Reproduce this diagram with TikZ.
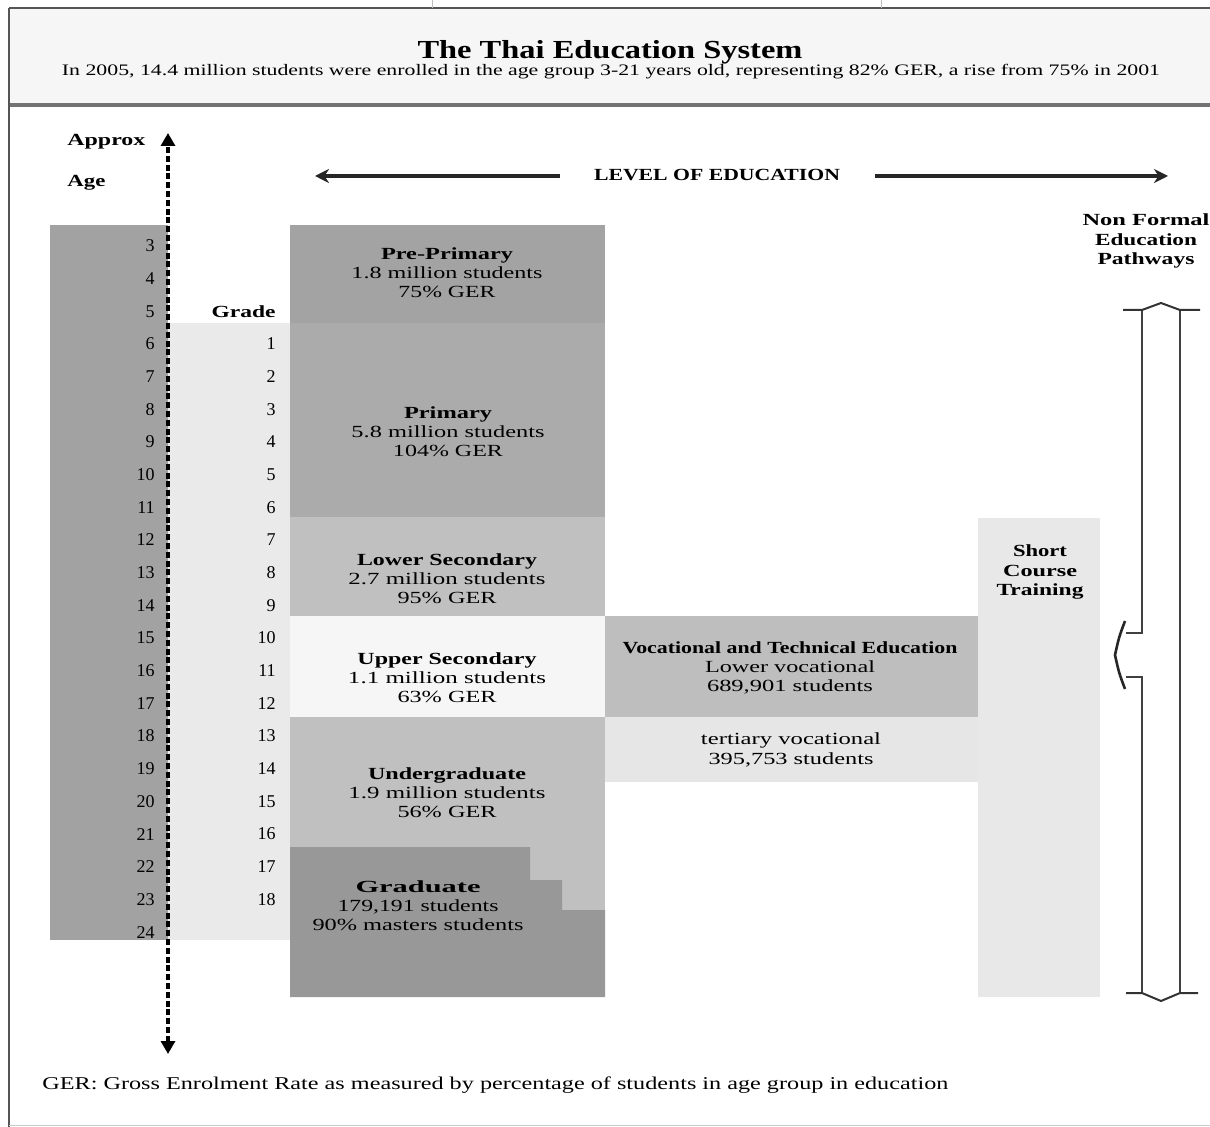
\documentclass[tikz,border=0pt]{standalone}
\usepackage{fontspec}
\setmainfont{Liberation Serif}
\usepackage{graphicx}
\usetikzlibrary{arrows.meta}
\newcommand{\fitw}[2]{\resizebox{#1}{\height}{#2}}
\definecolor{titlebg}{HTML}{F6F6F6}
\definecolor{agecol}{HTML}{A2A2A2}
\definecolor{gradecol}{HTML}{EAEAEA}
\definecolor{precol}{HTML}{A3A3A3}
\definecolor{primcol}{HTML}{ABABAB}
\definecolor{lowcol}{HTML}{C0C0C0}
\definecolor{uppcol}{HTML}{F6F6F6}
\definecolor{undcol}{HTML}{C0C0C0}
\definecolor{gradcol}{HTML}{989898}
\definecolor{voccol}{HTML}{BEBEBE}
\definecolor{tercol}{HTML}{E6E6E6}
\definecolor{shortcol}{HTML}{E8E8E8}
\definecolor{framecol}{HTML}{555555}
\begin{document}
\begin{tikzpicture}[x=0.5pt,y=-0.5pt,
  txt/.style={inner sep=0pt, align=center, font=\fontsize{8.5}{9.6}\selectfont},
  num/.style={inner sep=0pt, anchor=east, font=\fontsize{9}{10}\selectfont},
  lbl/.style={inner sep=0pt, font=\fontsize{8.5}{9.6}\selectfont\bfseries},
  dasharrow/.style={line width=2pt, dash pattern=on 3pt off 1.4pt,
    {Triangle[width=7pt,length=6.5pt]}-{Triangle[width=7pt,length=6.5pt]}},
  levelarrow/.style={line width=1.6pt, draw=black!85, -{Stealth[width=7pt,length=7pt]}},
  hollow/.style={line width=0.8pt, draw=black!75, line join=miter},
  headline/.style={line width=1pt, draw=black!80, line join=round},
]
\useasboundingbox (0,0) rectangle (1210,1127);
\fill[white] (0,0) rectangle (1210,1127);

% ---------- frame and title bar ----------
\fill[titlebg] (9,8) rectangle (1210,104);
\draw[line width=2pt, draw=black!55] (9,105) -- (1210,105);
\draw[line width=0.7pt, draw=framecol] (9,8) -- (1210,8);
\draw[line width=0.7pt, draw=framecol] (9,8) -- (9,1127);
\draw[line width=0.4pt, draw=black!25] (432,0) -- (432,8);
\draw[line width=0.4pt, draw=black!25] (881,0) -- (881,8);
\draw[line width=0.5pt, draw=black!20] (9,1125) -- (1210,1125);

\node[inner sep=0pt, font=\fontsize{13}{14}\selectfont] (title) at (610,52)
  {\fitw{192.5pt}{\bfseries The Thai Education System}};
\node[inner sep=0pt, font=\fontsize{8}{9}\selectfont] (subtitle) at (611,72)
  {\fitw{549pt}{In 2005, 14.4 million students were enrolled in the age group 3-21 years old, representing 82\% GER, a rise from 75\% in 2001}};

% ---------- age and grade columns ----------
\fill[agecol] (50,225) rectangle (168,940);
\fill[gradecol] (168,323) rectangle (290,940);

\node[lbl, anchor=west] (approx) at (67,142) {\fitw{39pt}{Approx}};
\node[lbl, anchor=west] (age) at (67,183) {\fitw{19pt}{Age}};
\node[lbl, anchor=east] (grade) at (276,312) {\fitw{32pt}{Grade}};

\foreach \a [count=\i from 0] in {3,...,24}
  \node[num] (age\a) at (155,{246+32.67*\i}) {\a};
\foreach \g in {1,...,18}
  \node[num] (grade\g) at (276,{246+32.67*(\g+2)}) {\g};

\coordinate (agetop) at (168,133);
\coordinate (agebot) at (168,1054);
\draw[dasharrow] (agebot) -- (agetop);

% ---------- level of education ----------
\node[lbl] (level) at (717,175) {\fitw{123pt}{LEVEL OF EDUCATION}};
\coordinate (levelL) at (315,176);
\coordinate (levelR) at (1168,176);
\draw[levelarrow] ([xshift=-17pt]level.west |- levelL) -- (levelL);
\draw[levelarrow] ([xshift=17.5pt]level.east |- levelR) -- (levelR);

% ---------- formal education blocks ----------
\fill[precol]  (290,225) rectangle (605,323);
\fill[primcol] (290,323) rectangle (605,517);
\fill[lowcol]  (290,517) rectangle (605,616);
\fill[uppcol]  (290,616) rectangle (605,717);
\fill[undcol]  (290,717) rectangle (605,910);
\fill[gradcol] (290,847) -- (530,847) -- (530,880) -- (562,880) -- (562,910)
  -- (605,910) -- (605,997) -- (290,997) -- cycle;
\fill[voccol]  (605,616) rectangle (978,717);
\fill[tercol]  (605,717) rectangle (978,782);
\fill[shortcol] (978,518) rectangle (1100,997);

\node[txt] (pre) at (447,273)
  {\fitw{66pt}{\bfseries Pre-Primary}\\\fitw{95.5pt}{1.8 million students}\\\fitw{48.5pt}{75\% GER}};
\node[txt] (prim) at (448,432)
  {\fitw{44pt}{\bfseries Primary}\\\fitw{96.5pt}{5.8 million students}\\\fitw{55pt}{104\% GER}};
\node[txt] (lower) at (447,579)
  {\fitw{90pt}{\bfseries Lower Secondary}\\\fitw{98.5pt}{2.7 million students}\\\fitw{49.5pt}{95\% GER}};
\node[txt] (upper) at (447,678)
  {\fitw{89.5pt}{\bfseries Upper Secondary}\\\fitw{99pt}{1.1 million students}\\\fitw{49.5pt}{63\% GER}};
\node[txt] (under) at (447,793)
  {\fitw{79pt}{\bfseries Undergraduate}\\\fitw{98.5pt}{1.9 million students}\\\fitw{49.5pt}{56\% GER}};
\node[txt] (grad) at (418,906)
  {\fitw{62.5pt}{\bfseries Graduate}\\\fitw{80.5pt}{179,191 students}\\\fitw{105.5pt}{90\% masters students}};
\node[txt] (voc) at (790,668)
  {\fitw{167.5pt}{\bfseries Vocational and Technical Education}\\\fitw{85pt}{Lower vocational}\\\fitw{83pt}{689,901 students}};
\node[txt] (ter) at (791,750)
  {\fitw{90pt}{tertiary vocational}\\\fitw{82.5pt}{395,753 students}};
\node[txt] (short) at (1040,572)
  {\fitw{27pt}{\bfseries Short}\\\fitw{37pt}{\bfseries Course}\\\fitw{43.5pt}{\bfseries Training}};

% ---------- non formal pathways ----------
\node[txt] (nonformal) at (1146,241)
  {\fitw{63.5pt}{\bfseries Non Formal}\\\fitw{51pt}{\bfseries Education}\\\fitw{48.5pt}{\bfseries Pathways}};

\coordinate (nfTopL) at (1142,310);
\coordinate (nfTopR) at (1180,310);
\coordinate (nfBotL) at (1142,993);
\coordinate (nfBotR) at (1180,993);
\draw[hollow] (nfTopL) -- (1142,633) -- (1126,633);
\draw[hollow] (1126,677) -- (1142,677) -- (nfBotL);
\draw[hollow] (nfTopR) -- (nfBotR);
\draw[line width=1.3pt, draw=black!85, line join=round] (1125,621)
  .. controls (1119,637) .. (1115,655) .. controls (1119,673) .. (1125,689);
\draw[headline] (1123,310) -- (nfTopL) -- (1161,303) -- (nfTopR) -- (1200,310);
\draw[headline] (1126,993) -- (nfBotL) -- (1161,1001) -- (nfBotR) -- (1198,993);

% ---------- footnote ----------
\node[inner sep=0pt, anchor=west, font=\fontsize{9}{10}\selectfont] (footer) at (42,1085)
  {\fitw{453pt}{GER: Gross Enrolment Rate as measured by percentage of students in age group in education}};
\end{tikzpicture}
\end{document}
